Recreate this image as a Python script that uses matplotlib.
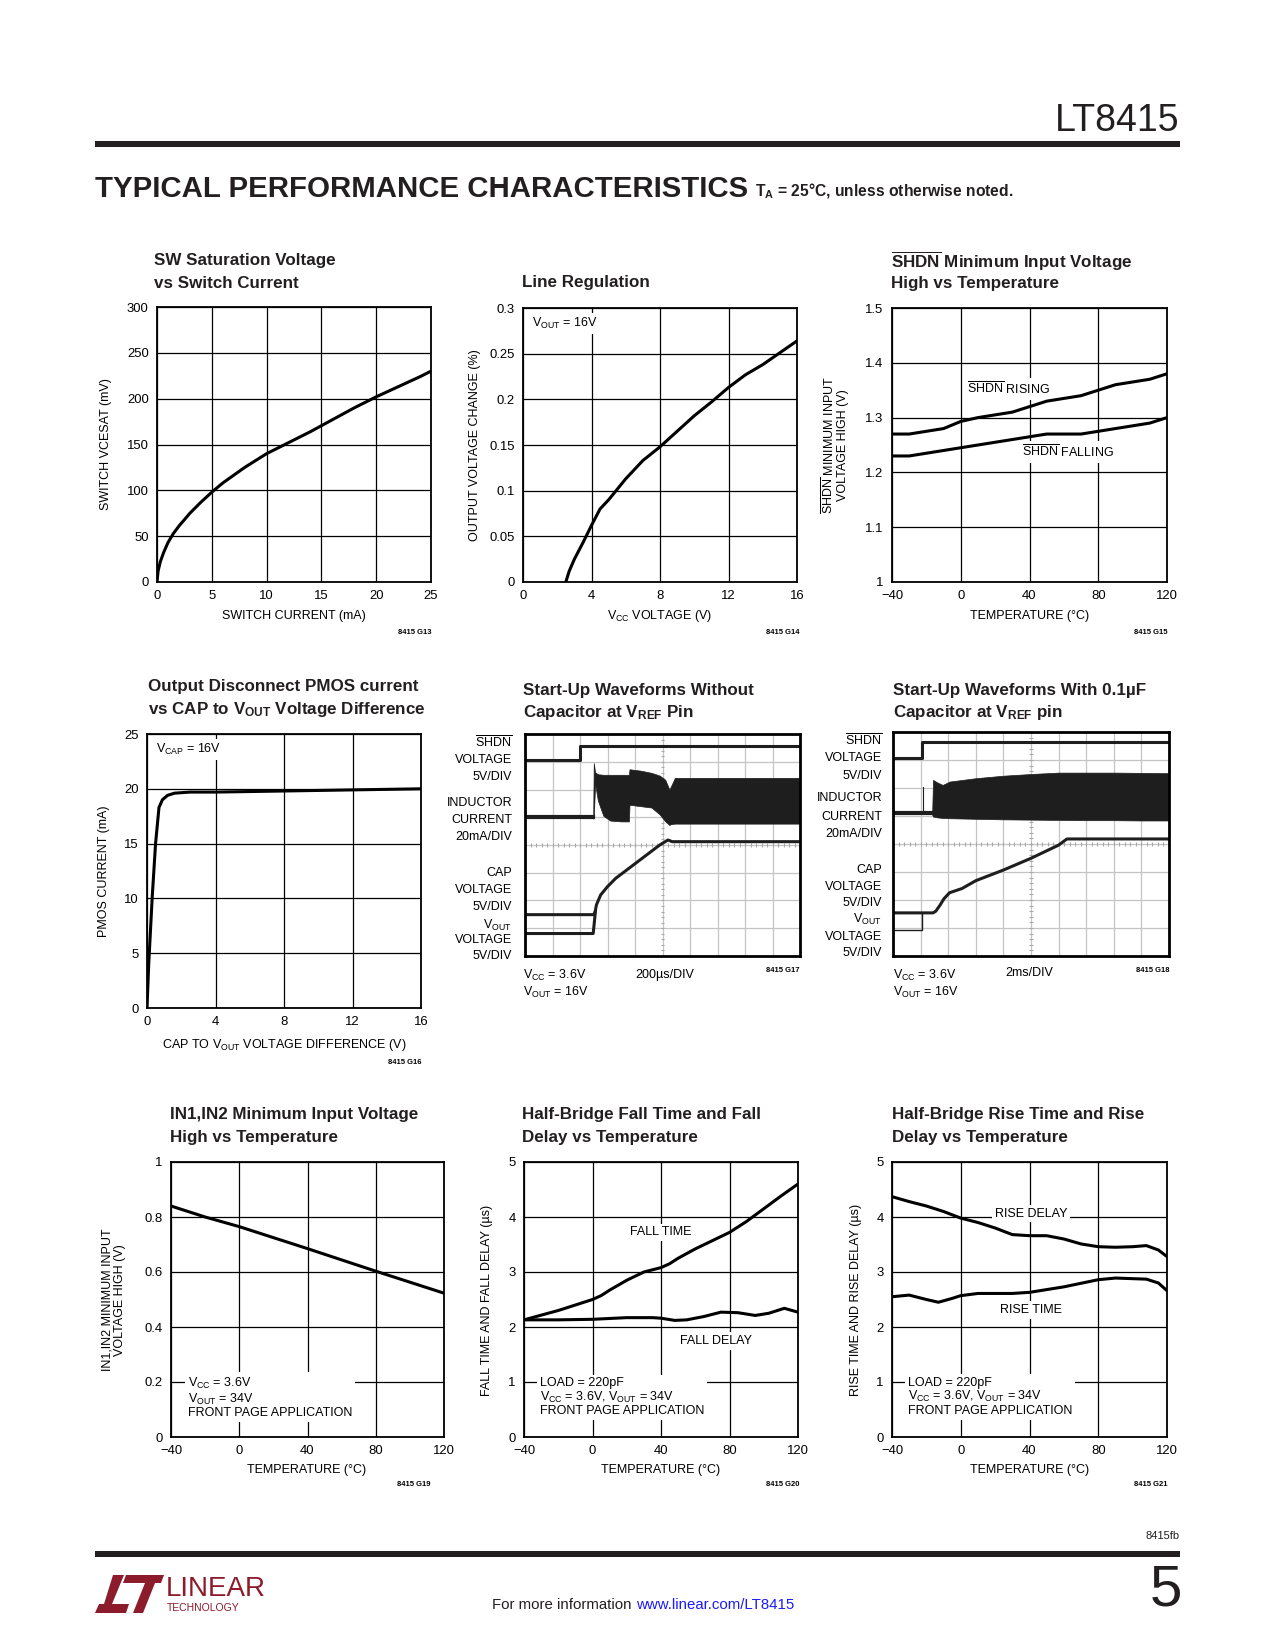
import numpy as np
import matplotlib
matplotlib.use('Agg')
import matplotlib.pyplot as plt
from matplotlib import font_manager
from matplotlib.patches import Polygon, Rectangle

W, H = 1275, 1650

names = {f.name for f in font_manager.fontManager.ttflist}
NARROW = 'Liberation Sans Narrow' in names
FONT = 'Liberation Sans Narrow' if NARROW else 'Liberation Sans'
# the wide fallback needs smaller sizes to keep the datasheet proportions
K = 1.0 if NARROW else 0.9

plt.rcParams['font.family'] = [FONT, 'DejaVu Sans']
plt.rcParams['mathtext.fontset'] = 'custom'
plt.rcParams['mathtext.rm'] = FONT
plt.rcParams['mathtext.sf'] = FONT
plt.rcParams['mathtext.it'] = FONT + ':italic'
plt.rcParams['mathtext.bf'] = FONT + ':bold'

# ---- data ----
TEMP_TICKS = [-40, 0, 40, 80, 120]
TEMP_LABELS = ['\u221240', '0', '40', '80', '120']

# G13 SW saturation voltage
sw_current = [0, 0.1, 0.3, 0.6, 1, 1.5, 2, 3, 4, 5, 6, 8, 10, 12, 14, 16, 18, 20, 22, 24, 25]
sw_vcesat = [0, 12, 22, 32, 43, 53, 61, 75, 87, 98, 108, 125, 140, 152, 164, 177, 190, 202, 213, 224, 230]

# G14 line regulation
vcc_volt = [2.5, 2.7, 3.0, 3.5, 4.0, 4.5, 5.0, 6, 7, 8, 9, 10, 11, 12, 13, 14, 15, 16]
vout_change = [0, 0.012, 0.025, 0.043, 0.062, 0.08, 0.09, 0.113, 0.133, 0.148, 0.165, 0.182, 0.197, 0.213, 0.227, 0.238, 0.251, 0.264]

# G15 SHDN threshold
shdn_temp_r = [-40, -30, -10, 0, 10, 30, 40, 50, 70, 80, 90, 110, 120]
shdn_rising = [1.27, 1.27, 1.28, 1.293, 1.30, 1.31, 1.32, 1.33, 1.34, 1.35, 1.36, 1.37, 1.38]
shdn_temp_f = [-40, -30, -10, 0, 20, 40, 50, 70, 80, 100, 110, 120]
shdn_falling = [1.23, 1.23, 1.24, 1.245, 1.255, 1.265, 1.27, 1.27, 1.275, 1.285, 1.29, 1.30]

# G16 PMOS current
cap_diff = [0, 0.1, 0.3, 0.5, 0.7, 0.9, 1.2, 1.6, 2.5, 4, 8, 12, 16]
pmos_current = [0, 4, 10, 15, 18.3, 19.0, 19.4, 19.6, 19.7, 19.7, 19.8, 19.9, 20.0]

# G17 scope (divisions)
g17_shdn_t = [0, 2, 2, 10]
g17_shdn_v = [7.05, 7.05, 7.58, 7.58]
g17_ind_base_t = [0, 2.48]
g17_ind_base_v = [5.0, 5.0]
g17_ind_t = [2.48, 2.50, 2.55, 2.65, 2.85, 3.1, 3.5, 3.78, 3.80, 4.2, 4.6, 4.9, 5.1, 5.25, 5.3, 5.45, 10.0]
g17_ind_hi = [5.05, 6.95, 6.62, 6.55, 6.53, 6.53, 6.53, 6.53, 6.73, 6.68, 6.60, 6.50, 6.35, 6.0, 6.1, 6.42, 6.42]
g17_ind_lo = [4.95, 5.0, 6.2, 5.6, 5.05, 4.88, 4.85, 4.85, 5.45, 5.40, 5.35, 5.1, 4.85, 4.72, 4.75, 4.77, 4.77]
g17_cap_t = [0, 2.5, 2.55, 2.6, 2.75, 3.0, 3.3, 3.7, 4.1, 4.5, 4.9, 5.2, 5.35, 10]
g17_cap_v = [1.49, 1.49, 1.6, 1.85, 2.2, 2.5, 2.8, 3.1, 3.4, 3.7, 4.0, 4.18, 4.12, 4.12]
g17_vout_t = [0, 2.48, 2.56]
g17_vout_v = [0.81, 0.81, 1.6]

# G18 scope (divisions)
g18_shdn_t = [0, 1.05, 1.05, 10]
g18_shdn_v = [7.06, 7.06, 7.63, 7.63]
g18_ind_base_t = [0, 1.42]
g18_ind_base_v = [5.1, 5.1]
g18_spike_t = [1.1, 1.1]
g18_spike_v = [5.1, 6.05]
g18_ind_t = [1.42, 1.45, 1.6, 1.8, 2.05, 3.0, 4.0, 5.0, 6.0, 7.0, 8.0, 9.0, 10.0]
g18_ind_hi = [5.15, 6.29, 6.2, 6.11, 6.23, 6.35, 6.44, 6.5, 6.55, 6.55, 6.55, 6.54, 6.53]
g18_ind_lo = [5.05, 4.98, 4.95, 4.93, 4.92, 4.9, 4.88, 4.87, 4.86, 4.85, 4.85, 4.84, 4.84]
g18_cap_t = [0, 1.45, 1.55, 1.7, 1.85, 2.05, 2.5, 3.0, 4.0, 5.0, 6.0, 6.3, 10]
g18_cap_v = [1.54, 1.54, 1.6, 1.81, 2.05, 2.26, 2.41, 2.69, 3.07, 3.49, 3.96, 4.18, 4.18]
g18_vout_t = [0, 1.05, 1.05]
g18_vout_v = [0.94, 0.94, 1.54]

# G19 IN1/IN2 threshold
in_temp = [-40, -20, 0, 40, 80, 120]
in_vih = [0.84, 0.80, 0.765, 0.685, 0.603, 0.523]

# G20 fall time / delay
fall_temp = [-40, -20, 0, 5, 10, 20, 30, 40, 45, 50, 60, 70, 80, 90, 100, 110, 120]
fall_time = [2.13, 2.3, 2.5, 2.57, 2.67, 2.85, 3.0, 3.08, 3.15, 3.25, 3.42, 3.57, 3.72, 3.92, 4.15, 4.38, 4.6]
fdel_temp = [-40, -20, 0, 20, 35, 40, 48, 55, 65, 75, 85, 95, 103, 112, 120]
fall_delay = [2.13, 2.13, 2.14, 2.17, 2.17, 2.16, 2.12, 2.13, 2.19, 2.27, 2.26, 2.21, 2.25, 2.34, 2.27]

# G21 rise delay / time
rdel_temp = [-40, -30, -20, -10, 0, 10, 20, 30, 40, 50, 60, 70, 80, 90, 100, 108, 115, 120]
rise_delay = [4.37, 4.28, 4.2, 4.1, 3.98, 3.9, 3.8, 3.68, 3.66, 3.66, 3.6, 3.51, 3.46, 3.45, 3.46, 3.48, 3.4, 3.28]
rtime_temp = [-40, -30, -20, -13, -5, 0, 10, 30, 40, 60, 80, 90, 108, 115, 120]
rise_time = [2.55, 2.58, 2.5, 2.45, 2.52, 2.57, 2.61, 2.61, 2.63, 2.73, 2.86, 2.89, 2.87, 2.8, 2.66]

LOGO_RED = '#8c1b2c'
INK = '#231f20'
LW = 2.2
FS = 10 * K        # labels / annotations
FS_TICK = 10.5 * K
FS_TITLE = 13.6 * K

fig = plt.figure(figsize=(W / 100, H / 100), dpi=100)


def fx(x):
    return x / W


def fy(y):
    return 1 - y / H


def ftext(x, y, s, **kw):
    return fig.text(fx(x), fy(y), s, **kw)


def make_axes(x0, y0, x1, y1):
    return fig.add_axes([fx(x0), fy(y1), (x1 - x0) / W, (y1 - y0) / H])


def chart(box, xlim, ylim, xticks, yticks, xlabels, ylabels):
    ax = make_axes(*box)
    ax.set_xlim(xlim)
    ax.set_ylim(ylim)
    ax.set_xticks(xticks)
    ax.set_xticklabels(xlabels)
    ax.set_yticks(yticks)
    ax.set_yticklabels(ylabels)
    ax.grid(True, color='black', lw=0.9)
    ax.set_axisbelow(True)
    ax.tick_params(length=0, pad=6, labelsize=FS_TICK)
    for s in ax.spines.values():
        s.set_linewidth(1.3)
    return ax


def title(x, y1, lines):
    for i, t in enumerate(lines):
        ftext(x, y1 + 22.5 * i, t, fontsize=FS_TITLE, fontweight='bold', va='center',
              ha='left', color=INK)


def tag(xr, y, s):
    ftext(xr, y, s, fontsize=5.5, fontweight='bold', ha='right', va='center')


def label(ax, x, y, s, **kw):
    kw.setdefault('ha', 'left')
    ax.text(x, y, s, fontsize=FS, va='center', zorder=1.5,
            bbox=dict(facecolor='white', edgecolor='none', pad=2), **kw)


# ---- page header ----
ftext(1180, 121, 'LT8415', fontsize=30 * K, ha='right', va='center', color=INK)
fig.add_artist(Rectangle((fx(95), fy(147)), fx(1180) - fx(95), 6 / H,
                         transform=fig.transFigure, color=INK, lw=0))
ftext(95, 189, 'TYPICAL PERFORMANCE CHARACTERISTICS', fontsize=23.5 * K, fontweight='bold',
      ha='left', va='center', color=INK)
ftext(755, 191, r'T$_{\mathbf{A}}$ = 25°C, unless otherwise noted.', fontsize=12.5 * K,
      fontweight='bold', ha='left', va='center', color=INK)

# ---- G13 ----
ax = chart((157, 307, 431, 582), (0, 25), (0, 300), [0, 5, 10, 15, 20, 25],
           [0, 50, 100, 150, 200, 250, 300],
           ['0', '5', '10', '15', '20', '25'], ['0', '50', '100', '150', '200', '250', '300'])
ax.plot(sw_current, sw_vcesat, color='black', lw=LW)
title(154, 261, ['SW Saturation Voltage', 'vs Switch Current'])
ftext(294, 616, 'SWITCH CURRENT (mA)', fontsize=FS, ha='center', va='center')
ftext(106, 444, 'SWITCH VCESAT (mV)', fontsize=FS, ha='center', va='center', rotation=90)
tag(432, 632, '8415 G13')

# ---- G14 ----
ax = chart((523, 308, 797, 582), (0, 16), (0, 0.3), [0, 4, 8, 12, 16],
           [0, 0.05, 0.1, 0.15, 0.2, 0.25, 0.3],
           ['0', '4', '8', '12', '16'], ['0', '0.05', '0.1', '0.15', '0.2', '0.25', '0.3'])
ax.plot(vcc_volt, vout_change, color='black', lw=LW)
label(ax, 0.55, 0.283, r'V$_{\mathrm{OUT}}$ = 16V')
title(522, 283, ['Line Regulation'])
ftext(660, 616, r'V$_{\mathrm{CC}}$ VOLTAGE (V)', fontsize=FS, ha='center', va='center')
ftext(475, 445, 'OUTPUT VOLTAGE CHANGE (%)', fontsize=FS, ha='center', va='center', rotation=90)
tag(800, 632, '8415 G14')

# ---- G15 ----
ax = chart((892, 308, 1167, 582), (-40, 120), (1, 1.5), TEMP_TICKS,
           [1, 1.1, 1.2, 1.3, 1.4, 1.5], TEMP_LABELS, ['1', '1.1', '1.2', '1.3', '1.4', '1.5'])
ax.plot(shdn_temp_r, shdn_rising, color='black', lw=LW)
ax.plot(shdn_temp_f, shdn_falling, color='black', lw=LW)
label(ax, 3.4, 1.352, r'$\overline{\mathrm{SHDN}}$ RISING')
label(ax, 35.8, 1.237, r'$\overline{\mathrm{SHDN}}$ FALLING')
title(891, 261, [r'$\overline{\mathbf{SHDN}}$ Minimum Input Voltage', 'High vs Temperature'])
ftext(1030, 616, 'TEMPERATURE (°C)', fontsize=FS, ha='center', va='center')
ftext(835, 445, r'$\overline{\mathrm{SHDN}}$ MINIMUM INPUT' + '\nVOLTAGE HIGH (V)', fontsize=FS,
      ha='center', va='center', rotation=90, linespacing=1.0)
tag(1168, 632, '8415 G15')

# ---- G16 ----
ax = chart((147, 734, 421, 1008), (0, 16), (0, 25), [0, 4, 8, 12, 16], [0, 5, 10, 15, 20, 25],
           ['0', '4', '8', '12', '16'], ['0', '5', '10', '15', '20', '25'])
ax.plot(cap_diff, pmos_current, color='black', lw=LW)
label(ax, 0.55, 23.6, r'V$_{\mathrm{CAP}}$ = 16V')
title(148, 687, ['Output Disconnect PMOS current',
                 r'vs CAP to V$_{\mathbf{OUT}}$ Voltage Difference'])
ftext(284, 1045, r'CAP TO V$_{\mathrm{OUT}}$ VOLTAGE DIFFERENCE (V)', fontsize=FS,
      ha='center', va='center')
ftext(104, 871, 'PMOS CURRENT (mA)', fontsize=FS, ha='center', va='center', rotation=90)
tag(422, 1062, '8415 G16')


# ---- scope shots ----
def scope(box):
    ax = make_axes(*box)
    ax.set_xlim(0, 10)
    ax.set_ylim(0, 8)
    ax.set_xticks(range(11))
    ax.set_yticks(range(9))
    ax.grid(True, color='#c4c4c4', lw=0.9)
    ax.set_axisbelow(True)
    ax.tick_params(length=0, labelbottom=False, labelleft=False)
    for s in ax.spines.values():
        s.set_linewidth(2.0)
    ax.vlines(np.arange(0, 10.01, 0.2), 3.93, 4.07, color='#a8a8a8', lw=0.8, zorder=1)
    ax.hlines(np.arange(0, 8.01, 0.2), 4.93, 5.07, color='#a8a8a8', lw=0.8, zorder=1)
    return ax


def scope_labels(xr, ys):
    texts = [r'$\overline{\mathrm{SHDN}}$', 'VOLTAGE', '5V/DIV', 'INDUCTOR', 'CURRENT',
             '20mA/DIV', 'CAP', 'VOLTAGE', '5V/DIV', r'V$_{\mathrm{OUT}}$', 'VOLTAGE', '5V/DIV']
    for t, y in zip(texts, ys):
        ftext(xr, y, t, fontsize=FS, ha='right', va='center')


TRACE = '#1e1e1e'

ax = scope((525, 734, 800, 956))
ax.plot(g17_shdn_t, g17_shdn_v, color=TRACE, lw=LW)
ax.plot(g17_ind_base_t, g17_ind_base_v, color=TRACE, lw=3)
ax.fill_between(g17_ind_t, g17_ind_lo, g17_ind_hi, color=TRACE, lw=0.5)
ax.plot(g17_vout_t, g17_vout_v, color=TRACE, lw=LW)
ax.plot(g17_cap_t, g17_cap_v, color=TRACE, lw=LW)
title(523, 690, ['Start-Up Waveforms Without', r'Capacitor at V$_{\mathbf{REF}}$ Pin'])
scope_labels(512, [743, 760, 777, 803, 820, 837, 873, 890, 907, 925, 940, 956])
ftext(523, 975, r'V$_{\mathrm{CC}}$ = 3.6V', fontsize=FS, ha='left', va='center')
ftext(523, 992, r'V$_{\mathrm{OUT}}$ = 16V', fontsize=FS, ha='left', va='center')
ftext(635, 975, '200µs/DIV', fontsize=FS, ha='left', va='center')
tag(800, 970, '8415 G17')

ax = scope((893, 732, 1169, 956))
ax.plot(g18_shdn_t, g18_shdn_v, color=TRACE, lw=LW)
ax.plot(g18_ind_base_t, g18_ind_base_v, color=TRACE, lw=3)
ax.plot(g18_spike_t, g18_spike_v, color=TRACE, lw=0.8)
ax.fill_between(g18_ind_t, g18_ind_lo, g18_ind_hi, color=TRACE, lw=0.5)
ax.plot(g18_vout_t, g18_vout_v, color=TRACE, lw=1.0)
ax.plot(g18_cap_t, g18_cap_v, color=TRACE, lw=LW)
title(893, 690, [r'Start-Up Waveforms With 0.1µF', r'Capacitor at V$_{\mathbf{REF}}$ pin'])
scope_labels(882, [741, 758, 776, 798, 817, 834, 870, 887, 903, 919, 937, 953])
ftext(893, 975, r'V$_{\mathrm{CC}}$ = 3.6V', fontsize=FS, ha='left', va='center')
ftext(893, 992, r'V$_{\mathrm{OUT}}$ = 16V', fontsize=FS, ha='left', va='center')
ftext(1005, 973, '2ms/DIV', fontsize=FS, ha='left', va='center')
tag(1170, 970, '8415 G18')

# ---- G19 ----
ax = chart((171, 1162, 444, 1437), (-40, 120), (0, 1), TEMP_TICKS,
           [0, 0.2, 0.4, 0.6, 0.8, 1], TEMP_LABELS, ['0', '0.2', '0.4', '0.6', '0.8', '1'])
ax.plot(in_temp, in_vih, color='black', lw=LW)
label(ax, -30.2, 0.143, r'V$_{\mathrm{CC}}$ = 3.6V' + '\n' + r'V$_{\mathrm{OUT}}$ = 34V'
      + '\nFRONT PAGE APPLICATION', linespacing=1.05)
title(170, 1115, ['IN1,IN2 Minimum Input Voltage', 'High vs Temperature'])
ftext(307, 1470, 'TEMPERATURE (°C)', fontsize=FS, ha='center', va='center')
ftext(114, 1300, 'IN1,IN2 MINIMUM INPUT\nVOLTAGE HIGH (V)', fontsize=FS,
      ha='center', va='center', rotation=90, linespacing=1.0)
tag(430, 1485, '8415 G19')

# ---- G20 ----
ax = chart((524, 1162, 798, 1437), (-40, 120), (0, 5), TEMP_TICKS, [0, 1, 2, 3, 4, 5],
           TEMP_LABELS, ['0', '1', '2', '3', '4', '5'])
ax.plot(fall_temp, fall_time, color='black', lw=LW)
ax.plot(fdel_temp, fall_delay, color='black', lw=LW)
label(ax, 40, 3.72, 'FALL TIME', ha='center')
label(ax, 72, 1.75, 'FALL DELAY', ha='center')
label(ax, -30.9, 0.72, 'LOAD = 220pF\n' + r'V$_{\mathrm{CC}}$ = 3.6V, V$_{\mathrm{OUT}}$ = 34V'
      + '\nFRONT PAGE APPLICATION', linespacing=1.05)
title(522, 1115, ['Half-Bridge Fall Time and Fall', 'Delay vs Temperature'])
ftext(661, 1470, 'TEMPERATURE (°C)', fontsize=FS, ha='center', va='center')
ftext(487, 1300, 'FALL TIME AND FALL DELAY (µs)', fontsize=FS, ha='center', va='center', rotation=90)
tag(800, 1485, '8415 G20')

# ---- G21 ----
ax = chart((892, 1162, 1167, 1437), (-40, 120), (0, 5), TEMP_TICKS, [0, 1, 2, 3, 4, 5],
           TEMP_LABELS, ['0', '1', '2', '3', '4', '5'])
ax.plot(rdel_temp, rise_delay, color='black', lw=LW)
ax.plot(rtime_temp, rise_time, color='black', lw=LW)
label(ax, 41, 4.06, 'RISE DELAY', ha='center')
label(ax, 41, 2.31, 'RISE TIME', ha='center')
label(ax, -30.7, 0.73, 'LOAD = 220pF\n' + r'V$_{\mathrm{CC}}$ = 3.6V, V$_{\mathrm{OUT}}$ = 34V'
      + '\nFRONT PAGE APPLICATION', linespacing=1.05)
title(892, 1115, ['Half-Bridge Rise Time and Rise', 'Delay vs Temperature'])
ftext(1030, 1470, 'TEMPERATURE (°C)', fontsize=FS, ha='center', va='center')
ftext(856, 1300, 'RISE TIME AND RISE DELAY (µs)', fontsize=FS, ha='center', va='center', rotation=90)
tag(1168, 1485, '8415 G21')

# ---- footer ----
ftext(1180, 1536, '8415fb', fontsize=8, ha='right', va='center', color=INK)
fig.add_artist(Rectangle((fx(95), fy(1557)), fx(1180) - fx(95), 6 / H,
                         transform=fig.transFigure, color=INK, lw=0))
ftext(1182, 1590, '5', fontsize=42, ha='right', va='center', color=INK)
t = ftext(492, 1605, 'For more information ', fontsize=12 * K, ha='left', va='center', color=INK)
fig.canvas.draw()
bb = t.get_window_extent()
fig.text(bb.x1 / fig.bbox.width, fy(1605), 'www.linear.com/LT8415', fontsize=12 * K,
         ha='left', va='center', color='#1a1aff')

# Linear Technology logo (rough)
logo_shapes = [
    [(113, 1575), (124, 1575), (112, 1604), (129, 1604), (126, 1613), (95, 1613), (99, 1604), (104, 1604)],
    [(126, 1575), (164, 1575), (161, 1583), (123, 1583)],
    [(145, 1583), (155, 1583), (143, 1613), (133, 1613)],
]
for pts in logo_shapes:
    fig.add_artist(Polygon([(fx(x), fy(y)) for x, y in pts], closed=True,
                           transform=fig.transFigure, color=LOGO_RED, lw=0))
ftext(166, 1589, 'LINEAR', fontsize=20, ha='left', va='center', color=LOGO_RED)
ftext(167, 1608, 'TECHNOLOGY', fontsize=7.5, ha='left', va='center', color=LOGO_RED)

fig.savefig('out.png', dpi=100)
